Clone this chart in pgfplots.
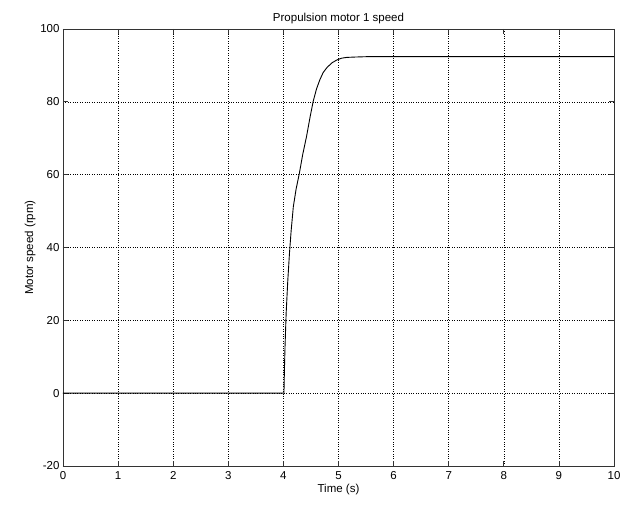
\documentclass[border=0pt]{standalone}
\usepackage{fontspec}
\setmainfont{Liberation Sans}
\usepackage{pgfplots}
\pgfplotsset{compat=1.18}

\begin{document}
\begin{tikzpicture}[font=\fontsize{11.5}{13}\selectfont]
\begin{axis}[
    name=ax,
    anchor=south west, at={(0,0)},
    scale only axis,
    width=551pt, height=437pt,
    xmin=0, xmax=10, ymin=-20, ymax=100,
    xtick={0,1,...,10}, ytick={-20,0,...,100},
    title={Propulsion motor 1 speed},
    title style={yshift=-4pt},
    xlabel={Time (s)},
    ylabel={Motor speed (rpm)},
    xlabel style={yshift=2pt},
    ylabel style={yshift=-2pt},
    grid=major,
    grid style={black, dotted, line width=0.6pt},
    axis line style={black!80, line width=0.8pt},
    tick align=inside,
    tick pos=both,
    major tick length=5pt,
    tick style={black!80, line width=0.8pt},
    /pgf/number format/assume math mode=true,
    /pgf/number format/set thousands separator={},
    xticklabel style={yshift=-2pt},
    yticklabel style={xshift=0pt},
]
\addplot[black, line width=0.9pt] coordinates {
    (0,0) (4.0,0) (4.01,0) (4.02,7.3) (4.03,13.0) (4.05,22.0) (4.08,31.0)
    (4.11,38.4) (4.14,44.5) (4.18,51.2) (4.23,56.0) (4.29,60.4) (4.35,65.5)
    (4.42,70.5) (4.48,75.5) (4.54,80.1) (4.60,83.5) (4.66,86.0) (4.72,88.0)
    (4.79,89.4) (4.88,90.7) (4.97,91.5) (5.06,92.0) (5.15,92.2) (5.30,92.3)
    (5.51,92.4) (10,92.4)
};
\end{axis}
\path ([xshift=-63pt,yshift=-38pt]ax.south west) rectangle ([xshift=17pt,yshift=29pt]ax.north east);
\end{tikzpicture}
\end{document}
